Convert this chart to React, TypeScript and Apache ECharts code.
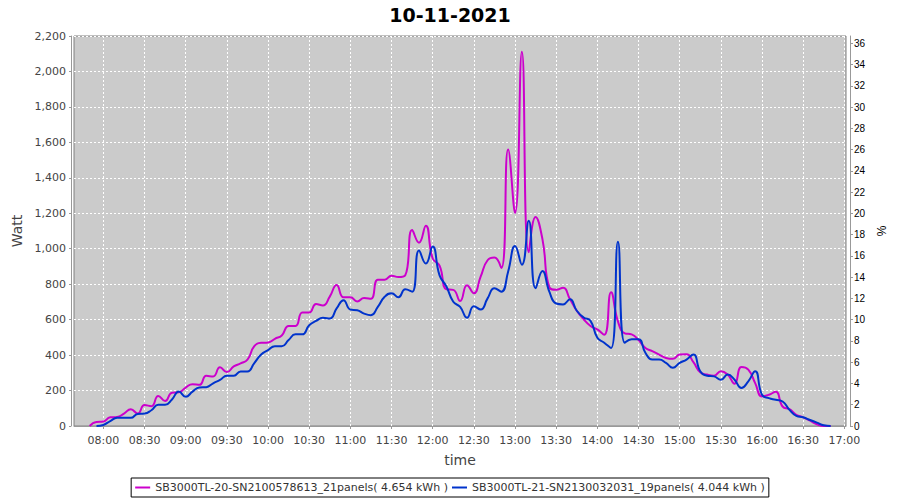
import React, { useEffect, useRef } from "react";
import * as echarts from "echarts";

const chartTitle = "10-11-2021";

const times = [
  "07:50", "07:55",
  "08:00", "08:05", "08:10", "08:15", "08:20", "08:25", "08:30", "08:35", "08:40", "08:45", "08:50", "08:55",
  "09:00", "09:05", "09:10", "09:15", "09:20", "09:25", "09:30", "09:35", "09:40", "09:45", "09:50", "09:55",
  "10:00", "10:05", "10:10", "10:15", "10:20", "10:25", "10:30", "10:35", "10:40", "10:45", "10:50", "10:55",
  "11:00", "11:05", "11:10", "11:15", "11:20", "11:25", "11:30", "11:35", "11:40", "11:45", "11:50", "11:55",
  "12:00", "12:05", "12:10", "12:15", "12:20", "12:25", "12:30", "12:35", "12:40", "12:45", "12:50", "12:55",
  "13:00", "13:05", "13:10", "13:15", "13:20", "13:25", "13:30", "13:35", "13:40", "13:45", "13:50", "13:55",
  "14:00", "14:05", "14:10", "14:15", "14:20", "14:25", "14:30", "14:35", "14:40", "14:45", "14:50", "14:55",
  "15:00", "15:05", "15:10", "15:15", "15:20", "15:25", "15:30", "15:35", "15:40", "15:45", "15:50", "15:55",
  "16:00", "16:05", "16:10", "16:15", "16:20", "16:25", "16:30", "16:35", "16:40", "16:45", "16:50",
];

const sb20Name = "SB3000TL-20-SN2100578613_21panels( 4.654 kWh )";
const sb20 = [
  0, 23,
  25, 49, 51, 70, 95, 70, 118, 112, 169, 141, 188, 190,
  217, 236, 232, 283, 279, 331, 304, 336, 353, 374, 450, 469,
  471, 492, 511, 564, 564, 640, 640, 688, 680, 730, 796, 726,
  726, 703, 722, 718, 825, 825, 848, 840, 850, 1105, 1034, 1130,
  945, 905, 771, 768, 705, 794, 749, 844, 935, 950, 891, 1560,
  1202, 2111, 980, 1179, 1053, 783, 768, 780, 716, 650, 602, 564,
  545, 515, 754, 590, 523, 517, 485, 440, 422, 403, 384, 379,
  403, 405, 360, 303, 290, 284, 309, 290, 239, 333, 318, 242,
  167, 176, 193, 110, 95, 63, 49, 30, 10, 0, 0,
];

const sb21Name = "SB3000TL-21-SN2130032031_19panels( 4.044 kWh )";
const sb21 = [
  null, 0,
  6, 28, 46, 47, 46, 68, 70, 89, 120, 120, 150, 194,
  165, 194, 217, 219, 241, 260, 283, 283, 308, 308, 355, 403,
  428, 450, 450, 485, 517, 517, 568, 593, 610, 606, 663, 710,
  657, 653, 634, 625, 672, 729, 749, 726, 771, 758, 990, 916,
  1012, 850, 787, 701, 672, 611, 676, 657, 720, 777, 758, 872,
  1015, 910, 1158, 777, 875, 758, 691, 686, 715, 650, 612, 593,
  498, 470, 440, 1040, 470, 490, 490, 413, 375, 375, 356, 328,
  356, 375, 403, 309, 284, 280, 261, 290, 261, 214, 252, 309,
  176, 157, 148, 138, 91, 57, 49, 34, 19, 4, 0,
];

const timeTicks = [
  "08:00", "08:30", "09:00", "09:30", "10:00", "10:30", "11:00", "11:30", "12:00",
  "12:30", "13:00", "13:30", "14:00", "14:30", "15:00", "15:30", "16:00", "16:30", "17:00",
];
const pctTicks = [0, 2, 4, 6, 8, 10, 12, 14, 16, 18, 20, 22, 24, 26, 28, 30, 32, 34, 36];

const toMin = (s: string) => {
  const [h, m] = s.split(":").map(Number);
  return h * 60 + m;
};
const fmtMin = (v: number) => {
  const h = Math.floor(v / 60);
  const m = Math.round(v - h * 60);
  return String(h).padStart(2, "0") + ":" + String(m).padStart(2, "0");
};

const FONT = "DejaVu Sans";

export default function App() {
  const ref = useRef<HTMLDivElement>(null);
  useEffect(() => {
    if (!ref.current) return;
    const chart = echarts.init(ref.current, null, { renderer: "svg" });
    const tickMins = timeTicks.map(toMin);
    chart.setOption({
      animation: false,
      backgroundColor: "#ffffff",
      title: {
        text: chartTitle,
        left: "center",
        top: 0,
        textStyle: { fontFamily: FONT, fontWeight: "bold", fontSize: 19, color: "#000" },
      },
      legend: {
        left: "center",
        bottom: 3,
        icon: "rect",
        itemWidth: 15,
        itemHeight: 2,
        itemGap: 4,
        borderColor: "#000",
        borderWidth: 1,
        borderRadius: 0,
        padding: [4, 4],
        textStyle: { fontFamily: FONT, fontSize: 11, color: "#333" },
        data: [sb20Name, sb21Name],
      },
      grid: {
        left: 74,
        right: 54,
        top: 36,
        bottom: 74,
        show: true,
        backgroundColor: "#cbcbcb",
        borderColor: "#808080",
        borderWidth: 1,
      },
      xAxis: {
        type: "value",
        min: 458.6,
        max: 1021.2,
        offset: 4,
        name: "time",
        nameLocation: "middle",
        nameGap: 23,
        nameTextStyle: { fontFamily: FONT, fontSize: 14, color: "#444" },
        axisLine: { show: true, lineStyle: { color: "#999" } },
        axisTick: { show: true, length: 3, customValues: tickMins, lineStyle: { color: "#999" } },
        axisLabel: {
          customValues: tickMins,
          formatter: (v: number) => fmtMin(v),
          color: "#444",
          fontFamily: FONT,
          fontSize: 11,
          margin: 5,
        },
        splitLine: { show: true, lineStyle: { color: "#ffffff", type: [2, 2], width: 1 } },
      },
      yAxis: [
        {
          type: "value",
          position: "left",
          min: 0,
          max: 2200,
          interval: 200,
          offset: 3,
          name: "Watt",
          nameLocation: "middle",
          nameGap: 44,
          nameTextStyle: { fontFamily: FONT, fontSize: 14, color: "#444" },
          axisLine: { show: true, lineStyle: { color: "#999" } },
          axisTick: { show: true, length: 2, lineStyle: { color: "#999" } },
          axisLabel: {
            color: "#444",
            fontFamily: FONT,
            fontSize: 11,
            margin: 5,
            formatter: (v: number) => v.toLocaleString("en-US"),
          },
          splitLine: { show: true, lineStyle: { color: "#ffffff", type: [2, 2], width: 1 } },
        },
        {
          type: "value",
          position: "right",
          min: 0,
          max: 36.7,
          offset: 4,
          name: "%",
          nameLocation: "middle",
          nameGap: 24,
          nameTextStyle: { fontFamily: "Liberation Sans", fontSize: 12, color: "#000" },
          axisLine: { show: true, lineStyle: { color: "#999" } },
          axisTick: { show: true, length: 3, customValues: pctTicks, lineStyle: { color: "#999" } },
          axisLabel: {
            customValues: pctTicks,
            color: "#000",
            fontFamily: "Liberation Sans",
            fontSize: 10,
            margin: 4,
          },
          splitLine: { show: false },
        },
      ],
      series: [
        {
          type: "line",
          name: sb20Name,
          yAxisIndex: 0,
          data: times.map((t, i) => [toMin(t), sb20[i]]),
          smooth: 0.5,
          showSymbol: false,
          lineStyle: { color: "#cc00cc", width: 2 },
          itemStyle: { color: "#cc00cc" },
        },
        {
          type: "line",
          name: sb21Name,
          yAxisIndex: 0,
          data: times.map((t, i) => [toMin(t), sb21[i]]),
          smooth: 0.5,
          showSymbol: false,
          lineStyle: { color: "#0033cc", width: 2 },
          itemStyle: { color: "#0033cc" },
        },
      ],
    });
    return () => chart.dispose();
  }, []);
  return (
    <div
      ref={ref}
      style={{ position: "absolute", left: 0, top: 0, width: 900, height: 500 }}
    />
  );
}
